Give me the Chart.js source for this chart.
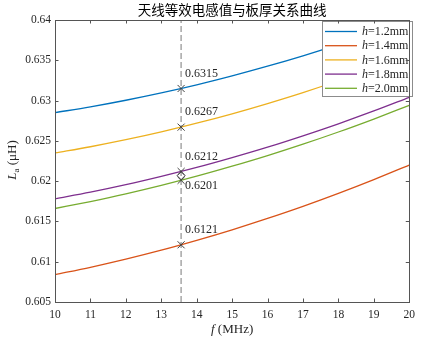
<!DOCTYPE html>
<html>
<head>
<meta charset="utf-8">
<script src="https://cdn.jsdelivr.net/npm/chart.js@4/dist/chart.umd.min.js"></script>
<style>
html, body { margin: 0; padding: 0; background: #fff; }
#wrap { width: 421px; height: 339px; }
</style>
</head>
<body>
<div id="wrap"><canvas id="c"></canvas></div>
<script>
// === データ ===
const freqs = [10, 11, 12, 13, 14, 15, 16, 17, 18, 19, 20];
const seriesNames = ['1.2mm', '1.4mm', '1.6mm', '1.8mm', '2.0mm'];
const L_h12 = [0.6285, 0.62922, 0.63004, 0.63095, 0.63195, 0.63306, 0.63426, 0.63555, 0.63694, 0.63842, 0.6400];
const L_h14 = [0.6084, 0.60931, 0.61032, 0.61143, 0.61265, 0.61396, 0.61537, 0.61687, 0.61848, 0.62019, 0.6220];
const L_h16 = [0.6235, 0.62427, 0.62514, 0.62611, 0.62719, 0.62836, 0.62963, 0.63099, 0.63246, 0.63403, 0.6357];
const L_h18 = [0.6178, 0.61863, 0.61956, 0.62059, 0.62170, 0.62292, 0.62422, 0.62563, 0.62712, 0.62871, 0.6304];
const L_h20 = [0.6166, 0.61747, 0.61842, 0.61947, 0.62061, 0.62185, 0.62317, 0.62459, 0.62610, 0.62771, 0.6294];
const markFreq = 13.56;
const markValues = [0.6315, 0.6267, 0.6212, 0.6201, 0.6121];
const diamondValue = 0.62068;
const xTicks = [10, 11, 12, 13, 14, 15, 16, 17, 18, 19, 20];
const yTicks = [0.605, 0.61, 0.615, 0.62, 0.625, 0.63, 0.635, 0.64];

// === スタイル ===
const colors = ['#0072BD', '#D95319', '#EDB120', '#7E2F8E', '#77AC30'];
const allSeries = [L_h12, L_h14, L_h16, L_h18, L_h20];
const labelBelow = [false, false, false, true, false]; // 0.6201 だけ下側
const SERIF = '"Liberation Serif", "Times New Roman", serif';
const AX = '#262626';

const curveSets = allSeries.map((vals, i) => ({
    label: 'h=' + seriesNames[i],
    data: freqs.map((f, k) => ({ x: f, y: vals[k] })),
    borderColor: colors[i], backgroundColor: colors[i],
    borderWidth: 1.3, pointRadius: 0, cubicInterpolationMode: 'monotone', order: 5
}));

const dashSet = {
    label: 'dash', data: [{ x: markFreq, y: yTicks[0] }, { x: markFreq, y: yTicks[yTicks.length - 1] }],
    borderColor: '#a6a6a6', borderWidth: 1.5, borderDash: [6, 3], pointRadius: 0, order: 10
};
const crossSet = {
    label: 'marks', data: markValues.map(v => ({ x: markFreq, y: v })),
    showLine: false, pointStyle: 'crossRot', pointRadius: 5, borderColor: '#404040', borderWidth: 1, order: 0
};
const diamondSet = {
    label: 'diamond', data: [{ x: markFreq, y: diamondValue }],
    showLine: false, pointStyle: 'rectRot', pointRadius: 4, borderColor: '#404040',
    backgroundColor: 'rgba(0,0,0,0)', borderWidth: 1, order: 0
};

// === 描き足し（枠・目盛・文字・凡例） ===
const decorPlugin = {
    id: 'decor',
    afterDatasetsDraw(chart) {
        const { ctx, scales: { x, y } } = chart;
        ctx.save();
        // 注記
        ctx.fillStyle = AX;
        ctx.font = '12px ' + SERIF;
        ctx.textBaseline = 'middle';
        ctx.textAlign = 'left';
        markValues.forEach((v, i) => {
            const px = x.getPixelForValue(markFreq), py = y.getPixelForValue(v);
            ctx.fillText(v.toFixed(4), px + 4, labelBelow[i] ? py + 6 : py - 15);
        });
        // 凡例
        const lx = 322, ly = 21, lw = 90, lh = 75;
        ctx.fillStyle = '#fff';
        ctx.fillRect(lx, ly, lw, lh);
        ctx.strokeStyle = '#8c8c8c';
        ctx.lineWidth = 1;
        ctx.strokeRect(lx + 0.5, ly + 0.5, lw, lh);
        seriesNames.forEach((n, i) => {
            const ry = ly + 10.5 + i * 14.2;
            ctx.strokeStyle = colors[i];
            ctx.lineWidth = 1.3;
            ctx.beginPath(); ctx.moveTo(lx + 3, ry); ctx.lineTo(lx + 35, ry); ctx.stroke();
            ctx.fillStyle = AX;
            ctx.font = 'italic 12px ' + SERIF;
            ctx.fillText('h', lx + 40, ry + 0.5);
            const hw = ctx.measureText('h').width;
            ctx.font = '12px ' + SERIF;
            ctx.fillText('=' + n, lx + 40 + hw, ry + 0.5);
        });
        ctx.restore();
    },
    afterDraw(chart) {
        const { ctx, chartArea: a, scales: { x, y } } = chart;
        ctx.save();
        // 枠
        ctx.strokeStyle = '#555';
        ctx.lineWidth = 1;
        ctx.strokeRect(Math.round(a.left) + 0.5, Math.round(a.top) + 0.5, Math.round(a.right - a.left), Math.round(a.bottom - a.top));
        // 内向き目盛
        const tl = 3.5;
        ctx.beginPath();
        xTicks.forEach(t => {
            const px = Math.round(x.getPixelForValue(t)) + 0.5;
            ctx.moveTo(px, a.bottom); ctx.lineTo(px, a.bottom - tl);
            ctx.moveTo(px, a.top); ctx.lineTo(px, a.top + tl);
        });
        yTicks.forEach(t => {
            const py = Math.round(y.getPixelForValue(t)) + 0.5;
            ctx.moveTo(a.left, py); ctx.lineTo(a.left + tl, py);
            ctx.moveTo(a.right, py); ctx.lineTo(a.right - tl, py);
        });
        ctx.stroke();
        // タイトル
        ctx.fillStyle = '#000';
        ctx.textAlign = 'center';
        ctx.textBaseline = 'middle';
        ctx.font = '13.5px "Noto Sans CJK SC", sans-serif';
        ctx.fillText('天线等效电感值与板厚关系曲线', (a.left + a.right) / 2, 10);
        // x 軸ラベル
        ctx.fillStyle = AX;
        ctx.textAlign = 'left';
        ctx.font = 'italic 13px ' + SERIF;
        const fW = ctx.measureText('f').width;
        ctx.font = '13px ' + SERIF;
        const restW = ctx.measureText(' (MHz)').width;
        const sx = (a.left + a.right) / 2 - (fW + restW) / 2;
        ctx.font = 'italic 13px ' + SERIF;
        ctx.fillText('f', sx, 330);
        ctx.font = '13px ' + SERIF;
        ctx.fillText(' (MHz)', sx + fW, 330);
        // y 軸ラベル
        ctx.translate(13, 160);
        ctx.rotate(-Math.PI / 2);
        ctx.font = 'italic 13px ' + SERIF;
        const LW = ctx.measureText('L').width;
        ctx.font = '9px ' + SERIF;
        const aW = ctx.measureText('a').width;
        ctx.font = '13px ' + SERIF;
        const uW = ctx.measureText(' (μH)').width;
        const s = -(LW + aW + uW) / 2;
        ctx.font = 'italic 13px ' + SERIF;
        ctx.fillText('L', s, 0);
        ctx.font = '9px ' + SERIF;
        ctx.fillText('a', s + LW, 4);
        ctx.font = '13px ' + SERIF;
        ctx.fillText(' (μH)', s + LW + aW, 0);
        ctx.restore();
    }
};

// === グラフ ===
new Chart(document.getElementById('c'), {
    type: 'line',
    data: { datasets: [dashSet, ...curveSets, crossSet, diamondSet] },
    options: {
        responsive: true, maintainAspectRatio: false, animation: false,
        layout: { padding: { top: 20, right: 8, left: 0, bottom: 0 } },
        plugins: { legend: { display: false }, tooltip: { enabled: false }, title: { display: false } },
        scales: {
            x: {
                type: 'linear', min: 10, max: 20,
                afterBuildTicks: (s) => { s.ticks = xTicks.map(v => ({ value: v })); },
                afterFit: (s) => { s.height = 37; },
                grid: { display: false, drawTicks: false }, border: { display: false },
                ticks: { color: AX, padding: 6, maxRotation: 0, font: { family: SERIF, size: 11.5 }, callback: v => String(v) }
            },
            y: {
                type: 'linear', min: 0.605, max: 0.64,
                afterBuildTicks: (s) => { s.ticks = yTicks.map(v => ({ value: v })); },
                afterFit: (s) => { s.width = 55; },
                grid: { display: false, drawTicks: false }, border: { display: false },
                ticks: { color: AX, padding: 4, font: { family: SERIF, size: 11.5 }, callback: v => String(+v.toFixed(3)) }
            }
        }
    },
    plugins: [decorPlugin]
});
</script>
</body>
</html>
